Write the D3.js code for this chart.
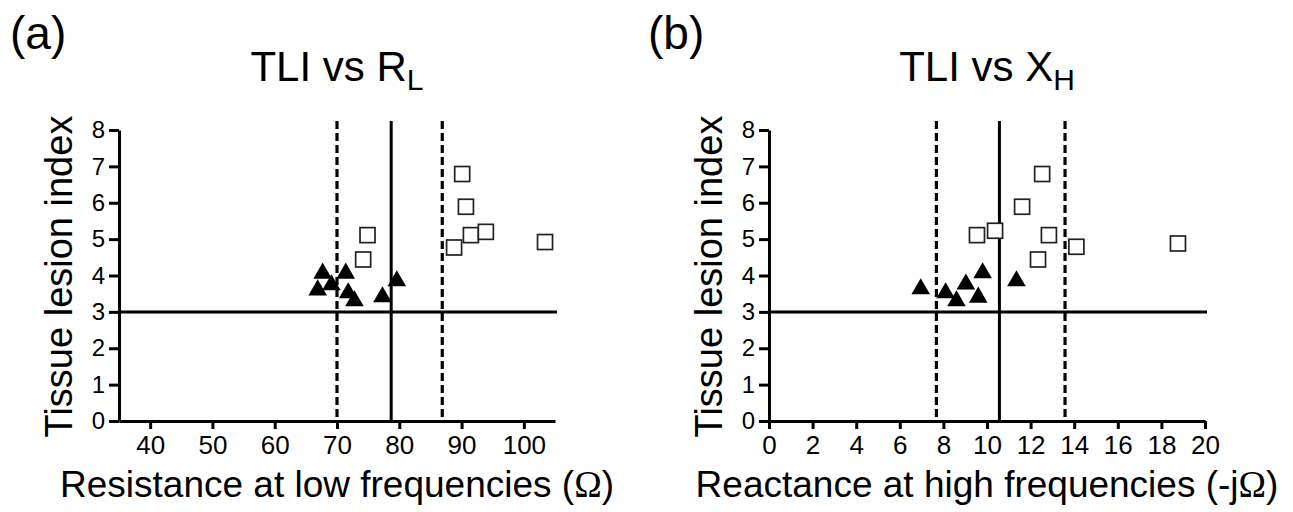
<!DOCTYPE html>
<html>
<head>
<meta charset="utf-8">
<script src="https://d3js.org/d3.v7.min.js"></script>
<style>
    body { margin: 0; background: #fff; }
    svg { display: block; font-family: "Liberation Sans", Arial, sans-serif; }
</style>
</head>
<body>
<svg id="drawing_region"></svg>
<script>
// TLI vs R_L (panel a)
const rlTriX = [66.9, 67.7, 69.1, 71.4, 71.8, 72.8, 77.3, 79.6];
const rlTriY = [3.60, 4.06, 3.74, 4.06, 3.52, 3.30, 3.41, 3.85];
const rlSqX  = [74.9, 74.2, 90.1, 90.7, 91.5, 88.8, 93.9, 103.4];
const rlSqY  = [5.11, 4.44, 6.79, 5.89, 5.11, 4.77, 5.20, 4.92];
const rlCut  = 78.7;
const rlDash = [70.0, 86.9];
const rlTicks = [40, 50, 60, 70, 80, 90, 100];

// TLI vs X_H (panel b)
const xhTriX = [6.96, 8.1, 8.6, 9.03, 9.6, 9.8, 11.35];
const xhTriY = [3.63, 3.52, 3.30, 3.76, 3.40, 4.07, 3.85];
const xhSqX  = [9.54, 10.37, 11.61, 12.53, 12.84, 12.34, 14.1, 18.76];
const xhSqY  = [5.11, 5.23, 5.89, 6.79, 5.11, 4.44, 4.79, 4.88];
const xhCut  = 10.57;
const xhDash = [7.68, 13.58];
const xhTicks = [0, 2, 4, 6, 8, 10, 12, 14, 16, 18, 20];

const yTicks = [0, 1, 2, 3, 4, 5, 6, 7, 8];
const tliThreshold = 3;

const svg = d3.select('#drawing_region')
    .attr('width', 1293)
    .attr('height', 512);

class ScatterPanel {

    constructor( config ) {
        this.config = config;
        this.init();
    }

    init() {
        let self = this;
        const c = self.config;

        self.xscale = d3.scaleLinear()
            .domain( c.xdomain )
            .range( [c.left, c.right] );

        self.yscale = d3.scaleLinear()
            .domain( [0, 8] )
            .range( [421, 130] );

        self.g = svg.append('g');
    }

    render() {
        let self = this;
        const c = self.config;
        const g = self.g;
        const xs = self.xscale, ys = self.yscale;

        // panel letter and title
        g.append('text')
            .attr('x', c.letterX).attr('y', 49)
            .attr('font-size', 46)
            .text(c.letter);

        const title = g.append('text')
            .attr('x', (c.left + c.right) / 2).attr('y', 81)
            .attr('text-anchor', 'middle')
            .attr('font-size', 42)
            .text(c.title);
        title.append('tspan')
            .attr('font-size', 30)
            .attr('dy', 9)
            .text(c.sub);

        // axes
        const xaxis = d3.axisBottom( xs )
            .tickValues( c.xticks )
            .tickSize(8)
            .tickSizeOuter(0)
            .tickPadding(7);
        const yaxis = d3.axisLeft( ys )
            .tickValues( yTicks )
            .tickSize(10)
            .tickSizeOuter(0)
            .tickPadding(4);

        const xg = g.append('g')
            .attr('transform', `translate(0, ${ys(0)})`)
            .call( xaxis );
        const yg = g.append('g')
            .attr('transform', `translate(${c.left}, 0)`)
            .call( yaxis );

        [xg, yg].forEach( a => {
            a.select('.domain').attr('stroke', '#000').attr('stroke-width', 3);
            a.selectAll('.tick line').attr('stroke', '#000').attr('stroke-width', 3);
            a.selectAll('.tick text')
                .attr('fill', '#000')
                .attr('font-family', '"Liberation Sans", Arial, sans-serif');
        });
        xg.attr('font-size', 26);
        yg.attr('font-size', 24);

        // axis labels
        g.append('text')
            .attr('transform', `translate(${c.left - 47}, ${(ys(0) + ys(8)) / 2 + 1}) rotate(-90)`)
            .attr('text-anchor', 'middle')
            .attr('font-size', 38)
            .text('Tissue lesion index');

        const xl = g.append('text')
            .attr('x', (c.left + c.right) / 2).attr('y', 497)
            .attr('text-anchor', 'middle')
            .attr('font-size', 37)
            .text(c.xlabel);
        xl.append('tspan')
            .attr('font-family', '"Liberation Serif", "Times New Roman", serif')
            .text('\u03A9');
        xl.append('tspan').text(')');

        // reference lines
        g.append('line')
            .attr('x1', c.left).attr('x2', c.right + 2)
            .attr('y1', ys(tliThreshold)).attr('y2', ys(tliThreshold))
            .attr('stroke', '#000').attr('stroke-width', 3);

        g.append('line')
            .attr('x1', xs(c.cut)).attr('x2', xs(c.cut))
            .attr('y1', ys(8.25)).attr('y2', ys(0))
            .attr('stroke', '#000').attr('stroke-width', 3);

        g.selectAll('line.dash')
            .data(c.dash)
            .enter()
            .append('line')
            .attr('class', 'dash')
            .attr('x1', d => xs(d)).attr('x2', d => xs(d))
            .attr('y1', ys(8.25)).attr('y2', ys(0))
            .attr('stroke', '#000').attr('stroke-width', 3.2)
            .attr('stroke-dasharray', '8,4');

        // squares
        const sq = 15;
        g.selectAll('rect.sq')
            .data(d3.zip(c.sqX, c.sqY))
            .enter()
            .append('rect')
            .attr('class', 'sq')
            .attr('x', d => xs(d[0]) - sq / 2)
            .attr('y', d => ys(d[1]) - sq / 2)
            .attr('width', sq).attr('height', sq)
            .attr('fill', '#fff')
            .attr('stroke', '#222').attr('stroke-width', 1.7);

        // triangles
        const tri = d3.symbol().type(d3.symbolTriangle).size(150);
        g.selectAll('path.tri')
            .data(d3.zip(c.triX, c.triY))
            .enter()
            .append('path')
            .attr('class', 'tri')
            .attr('transform', d => `translate(${xs(d[0])}, ${ys(d[1])})`)
            .attr('d', tri)
            .attr('fill', '#000');
    }
}

const panelA = new ScatterPanel({
    letter: '(a)', letterX: 10,
    title: 'TLI vs R', sub: 'L',
    xdomain: [35, 105], left: 119, right: 555,
    xticks: rlTicks,
    xlabel: 'Resistance at low frequencies (',
    triX: rlTriX, triY: rlTriY, sqX: rlSqX, sqY: rlSqY,
    cut: rlCut, dash: rlDash
});
panelA.render();

const panelB = new ScatterPanel({
    letter: '(b)', letterX: 648,
    title: 'TLI vs X', sub: 'H',
    xdomain: [0, 20], left: 769, right: 1205,
    xticks: xhTicks,
    xlabel: 'Reactance at high frequencies (-j',
    triX: xhTriX, triY: xhTriY, sqX: xhSqX, sqY: xhSqY,
    cut: xhCut, dash: xhDash
});
panelB.render();
</script>
</body>
</html>
